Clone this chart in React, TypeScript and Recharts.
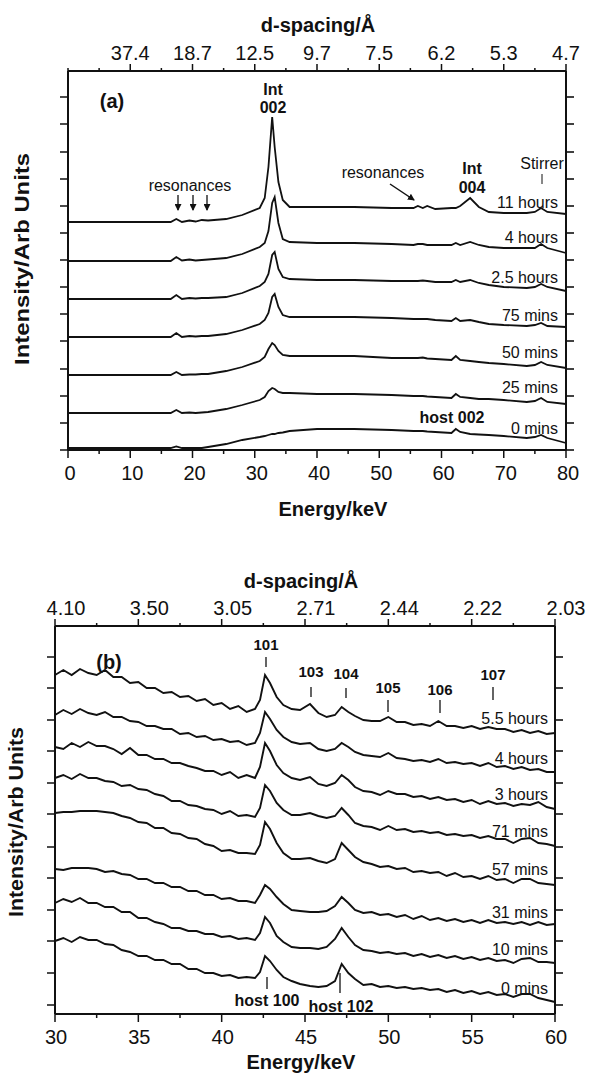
import React from 'react';
import { LineChart, Line, XAxis, YAxis } from 'recharts';

const FONT = '"Liberation Sans", Arial, Helvetica, sans-serif';
const INK = '#111';

// ---------- panel (a): 0-80 keV, intercalation runs ----------
const energyA = [0, 10, 16.5, 17.4, 18.3, 19.5, 20.5, 21.5, 22.5, 25.4, 28, 30.8, 31.6, 32.2, 32.8, 33.2, 33.8, 34.5, 35.6, 40, 46, 52, 55.5, 56.2, 57, 57.7, 59, 61.6, 62.3, 63, 64.6, 66, 67.6, 70, 73.7, 75, 76, 77, 80];

const keysA = ['m0', 'm25', 'm50', 'm75', 'h2_5', 'h4', 'h11'];
const labelsA = ['0 mins', '25 mins', '50 mins', '75 mins', '2.5 hours', '4 hours', '11 hours'];
// vertical stacking offset of each run (arb. units)
const offsetA = [2, 37, 75, 113, 151, 189, 228];

const a0mins = [0, 0, 0, 1.5, 0, 0, 0, 0, 1, 4, 8, 11, 12, 13, 14, 14, 15, 15.5, 17, 19, 19, 18, 17, 17, 17, 16.5, 16, 15, 19, 16, 14, 13.5, 13, 12, 10, 11, 13, 10, 5];
const a25mins = [0, 0, 0, 3, 0, 0.5, 0, 0.5, 1, 4, 8, 13, 16, 22, 25, 24, 21, 20, 20, 19, 19, 18, 17, 17, 17, 16.5, 16, 15, 19, 16, 15, 14, 14, 13, 11, 12, 15, 11, 9];
const a50mins = [0, 0, 0, 3, 0, 0.5, 0.5, 1, 1, 4, 8, 14, 18, 26, 32, 30, 24, 20, 19, 19, 19, 17, 17, 17, 17.5, 16.5, 16, 15, 19, 15, 14, 13, 12, 11, 9, 10, 13, 10, 7];
const a75mins = [0, 0, 0, 4, 0, 1, 0.5, 1, 1, 3, 7, 13, 17, 24, 40, 43, 30, 22, 20, 20, 20, 19, 18, 18, 18, 18, 17, 16, 19, 16, 17, 15, 13, 12, 11, 12, 14, 11, 10];
const a2_5hours = [0, 0, 0, 4, 0, 1, 0.5, 1, 1, 2, 6, 13, 17, 25, 44, 47, 30, 22, 20, 19, 19, 18, 18, 18, 18.5, 18, 17, 17, 19, 17, 19, 16, 14, 12, 11, 12, 15, 12, 8];
const a4hours = [0, 0, 0, 4, 0.5, 1.5, 0.5, 1, 1.5, 3, 7, 14, 18, 30, 58, 64, 38, 22, 19, 18, 18, 17, 16, 17, 17, 16, 16, 16, 18, 16, 19, 16, 14, 13, 13, 13, 17, 13, 8];
const a11hours = [0, 0, 0, 3, 0, 1.5, 0.5, 2, 1.5, 3, 7, 14, 24, 55, 105, 75, 40, 22, 15, 15, 15, 14, 14, 16, 14, 16, 13, 14, 14, 16, 24, 15, 10, 9, 9, 10, 14, 10, 8];
const profilesA = [a0mins, a25mins, a50mins, a75mins, a2_5hours, a4hours, a11hours];

const xTicksA = [0, 5, 10, 15, 20, 25, 30, 35, 40, 45, 50, 55, 60, 65, 70, 75, 80];
const xMajorA = [0, 10, 20, 30, 40, 50, 60, 70, 80];
const dMajorA = [10, 20, 30, 40, 50, 60, 70, 80];
const dLabelsA = ['37.4', '18.7', '12.5', '9.7', '7.5', '6.2', '5.3', '4.7'];
const yTicksA = [0, 27, 54, 81, 109, 136, 163, 190, 217, 244, 271, 298, 326, 353];

// ---------- panel (b): 30-60 keV, hexagonal reflections ----------
const energyB = [30, 30.5, 31, 31.5, 32, 32.5, 33, 33.5, 34, 34.5, 35, 35.5, 36, 36.5, 37, 37.5, 38, 38.5, 39, 39.5, 40, 40.5, 41, 41.5, 42, 42.3, 42.6, 42.9, 43.3, 43.7, 44.2, 44.7, 45.3, 45.8, 46.3, 46.8, 47.2, 47.6, 48, 48.5, 49, 49.5, 50, 50.5, 51, 51.5, 52, 52.5, 53, 53.5, 54, 54.5, 55, 55.5, 56, 56.5, 57, 57.5, 58, 58.5, 59, 59.5, 60];

const keysB = ['m0', 'm10', 'm31', 'm57', 'm71', 'h3', 'h4', 'h5_5'];
const labelsB = ['0 mins', '10 mins', '31 mins', '57 mins', '71 mins', '3 hours', '4 hours', '5.5 hours'];

const b0mins = [64, 67, 63, 68, 65, 65, 61, 60, 55, 53, 49, 49, 45, 45, 41, 41, 36, 36, 32, 32, 29, 30, 27, 28, 27, 33, 49, 44, 35, 28, 24, 21, 19, 18, 19, 24, 41, 32, 26, 20, 21, 18, 19, 17, 18, 16, 17, 15, 16, 13, 15, 12, 14, 11, 13, 10, 11, 8, 11, 11, 7, 5, 3];
const b10mins = [102, 106, 103, 107, 102, 102, 98, 98, 93, 93, 87, 87, 83, 81, 77, 77, 74, 74, 71, 71, 68, 69, 66, 67, 65, 72, 88, 82, 69, 63, 58, 57, 57, 56, 58, 66, 77, 68, 60, 55, 54, 52, 53, 51, 52, 49, 51, 48, 50, 47, 49, 46, 48, 45, 47, 44, 45, 42, 46, 47, 43, 43, 42];
const b31mins = [136, 135, 137, 137, 137, 136, 133, 134, 131, 130, 126, 126, 122, 122, 118, 118, 114, 114, 110, 110, 106, 107, 104, 104, 102, 110, 120, 116, 108, 101, 95, 94, 93, 93, 94, 99, 108, 102, 95, 92, 93, 90, 91, 88, 90, 86, 89, 85, 87, 84, 86, 83, 85, 82, 85, 82, 83, 81, 83, 80, 83, 80, 81];
const b57mins = [192, 193, 193, 194, 194, 194, 193, 192, 189, 187, 183, 182, 177, 177, 172, 171, 167, 166, 161, 159, 154, 155, 152, 152, 151, 160, 183, 176, 162, 152, 146, 146, 147, 144, 142, 146, 162, 155, 148, 143, 141, 138, 139, 136, 137, 133, 134, 132, 133, 129, 132, 128, 129, 126, 129, 125, 126, 122, 126, 126, 122, 121, 120];
const b71mins = [227, 230, 226, 231, 227, 227, 224, 223, 219, 220, 216, 215, 211, 209, 204, 204, 200, 199, 196, 195, 191, 194, 189, 190, 188, 197, 220, 214, 202, 195, 190, 190, 192, 189, 187, 189, 197, 190, 182, 179, 178, 175, 179, 175, 176, 173, 174, 172, 173, 170, 171, 169, 170, 167, 169, 166, 166, 162, 166, 167, 162, 161, 159];
const b3hours = [258, 256, 262, 258, 263, 259, 259, 256, 251, 257, 250, 250, 246, 246, 242, 242, 239, 237, 234, 234, 230, 233, 227, 230, 227, 238, 262, 254, 240, 232, 227, 225, 228, 221, 219, 222, 230, 225, 218, 214, 213, 210, 214, 211, 211, 208, 209, 206, 208, 205, 206, 203, 205, 201, 204, 201, 202, 199, 201, 200, 203, 198, 196];
const b4hours = [290, 295, 291, 296, 292, 290, 293, 288, 288, 284, 283, 279, 279, 276, 276, 271, 272, 268, 269, 265, 266, 263, 264, 260, 262, 272, 293, 286, 275, 268, 263, 261, 262, 256, 254, 256, 262, 258, 253, 250, 249, 248, 252, 247, 246, 244, 245, 243, 246, 242, 243, 241, 242, 239, 242, 238, 239, 236, 238, 235, 236, 233, 233];
const b5_5hours = [330, 335, 330, 336, 332, 330, 335, 328, 328, 322, 323, 317, 317, 312, 313, 308, 309, 304, 306, 300, 302, 296, 299, 293, 296, 305, 330, 322, 308, 300, 296, 295, 301, 292, 288, 290, 298, 293, 289, 285, 284, 284, 288, 283, 283, 280, 281, 279, 284, 279, 279, 277, 279, 276, 278, 276, 276, 273, 275, 272, 274, 271, 272];
const seriesB = [b0mins, b10mins, b31mins, b57mins, b71mins, b3hours, b4hours, b5_5hours];

const xTicksB = [30, 32.5, 35, 37.5, 40, 42.5, 45, 47.5, 50, 52.5, 55, 57.5, 60];
const xMajorB = [30, 35, 40, 45, 50, 55, 60];
const dLabelsB = ['4.10', '3.50', '3.05', '2.71', '2.44', '2.22', '2.03'];
const yTicksB = [0, 32, 64, 95, 127, 158, 191, 222, 254, 285, 317, 348];

const rowsA = energyA.map((e, i) => {
  const row: Record<string, number> = { e };
  keysA.forEach((k, j) => { row[k] = offsetA[j] + profilesA[j][i]; });
  return row;
});

const rowsB = energyB.map((e, i) => {
  const row: Record<string, number> = { e };
  keysB.forEach((k, j) => { row[k] = seriesB[j][i]; });
  return row;
});

const txt = { fontFamily: FONT, fill: INK } as const;

// plot boxes in page pixels, shared by the charts and the overlay
const boxA = { left: 68, right: 566, top: 71, bottom: 450, yMin: 0, yMax: 379 };
const boxB = { left: 55, right: 555, top: 626, bottom: 1014, yMin: -9, yMax: 379 };

// tick drawers: the axes get tickSize/tickMargin 0, so (x, y) sits on the axis line
const bottomTick = (majors: number[], dx: number) => (p: any) => {
  const major = majors.includes(p.payload.value);
  return (
    <g>
      <line x1={p.x} x2={p.x} y1={p.y} y2={p.y + (major ? 8 : 4)} stroke={INK} strokeWidth={1.5} />
      {major && <text x={p.x + dx} y={p.y + 30} textAnchor="middle" fontSize={20} {...txt}>{p.payload.value}</text>}
    </g>
  );
};

const topTick = (majors: number[], labels: string[], dx: number) => (p: any) => {
  const idx = majors.indexOf(p.payload.value);
  return (
    <g>
      <line x1={p.x} x2={p.x} y1={p.y} y2={p.y - (idx >= 0 ? 7 : 3)} stroke={INK} strokeWidth={1.5} />
      {idx >= 0 && <text x={p.x + dx} y={p.y - 11} textAnchor="middle" fontSize={20} {...txt}>{labels[idx]}</text>}
    </g>
  );
};

const leftTick = (p: any) => <line x1={p.x - 8} x2={p.x} y1={p.y} y2={p.y} stroke={INK} strokeWidth={1.5} />;

const frame = { stroke: INK, strokeWidth: 2 };

// plot box of (a): x 68..566, y 71..450 ; axes take 20 (x) / 10 (y) px out of the margins
const PanelA = () => (
  <LineChart width={589} height={540} data={rowsA} margin={{ top: 51, right: 13, bottom: 70, left: 58 }}>
    <XAxis xAxisId="b" dataKey="e" type="number" domain={[0, 80]} ticks={xTicksA} interval={0} height={20}
      tickSize={0} tickMargin={0} axisLine={frame} tickLine={false} tick={bottomTick(xMajorA, 2)} />
    <XAxis xAxisId="t" orientation="top" dataKey="e" type="number" domain={[0, 80]} ticks={xTicksA} interval={0} height={20}
      tickSize={0} tickMargin={0} axisLine={frame} tickLine={false} tick={topTick(dMajorA, dLabelsA, 0)} />
    <YAxis yAxisId="l" type="number" domain={[boxA.yMin, boxA.yMax]} ticks={yTicksA} interval={0} width={10}
      tickSize={0} tickMargin={0} axisLine={frame} tickLine={false} tick={leftTick} />
    <YAxis yAxisId="r" orientation="right" type="number" domain={[boxA.yMin, boxA.yMax]} width={10}
      axisLine={frame} tickLine={false} tick={false} />
    {keysA.map((k) => (
      <Line key={k} xAxisId="b" yAxisId="l" type="linear" dataKey={k} stroke={INK} strokeWidth={1.8}
        dot={false} isAnimationActive={false} />
    ))}
  </LineChart>
);

// plot box of (b): x 55..555, y 626..1014 (page coords)
const PanelB = () => (
  <LineChart width={589} height={542} data={rowsB} margin={{ top: 66, right: 24, bottom: 48, left: 45 }}>
    <XAxis xAxisId="b" dataKey="e" type="number" domain={[30, 60]} ticks={xTicksB} interval={0} height={20}
      tickSize={0} tickMargin={0} axisLine={frame} tickLine={false} tick={bottomTick(xMajorB, 1)} />
    <XAxis xAxisId="t" orientation="top" dataKey="e" type="number" domain={[30, 60]} ticks={xTicksB} interval={0} height={20}
      tickSize={0} tickMargin={0} axisLine={frame} tickLine={false} tick={topTick(xMajorB, dLabelsB, 11)} />
    <YAxis yAxisId="l" type="number" domain={[boxB.yMin, boxB.yMax]} ticks={yTicksB} interval={0} width={10}
      tickSize={0} tickMargin={0} axisLine={frame} tickLine={false} tick={leftTick} />
    <YAxis yAxisId="r" orientation="right" type="number" domain={[boxB.yMin, boxB.yMax]} width={10}
      axisLine={frame} tickLine={false} tick={false} />
    {keysB.map((k) => (
      <Line key={k} xAxisId="b" yAxisId="l" type="linear" dataKey={k} stroke={INK} strokeWidth={1.9}
        dot={false} isAnimationActive={false} />
    ))}
  </LineChart>
);

// right-hand frame ticks (outward), placed with the same linear mapping as the y axis
const RightTicks = ({ box, ticks }: { box: typeof boxA; ticks: number[] }) => (
  <g>
    {ticks.map((v) => {
      const y = box.bottom - ((v - box.yMin) / (box.yMax - box.yMin)) * (box.bottom - box.top);
      return <line key={v} x1={box.right} x2={box.right + 8} y1={y} y2={y} stroke={INK} strokeWidth={1.6} />;
    })}
  </g>
);

// label placement for the run names (right-aligned beside each trace)
const runLabelYA = [428, 387, 352, 315, 277, 237, 202];
const runLabelYB = [988, 949, 912, 869, 831, 794, 758, 718];

const Annotations = () => (
  <svg width={589} height={1082} style={{ position: 'absolute', left: 0, top: 0, pointerEvents: 'none' }}>
    <defs>
      <marker id="head" markerWidth="7" markerHeight="7" refX="6" refY="3.5" orient="auto" markerUnits="userSpaceOnUse">
        <path d="M0,0 L7,3.5 L0,7 z" fill={INK} />
      </marker>
    </defs>

    <RightTicks box={boxA} ticks={yTicksA} />
    <RightTicks box={boxB} ticks={yTicksB} />

    {/* panel (a) */}
    <text x={318} y={32} textAnchor="middle" fontSize={20} fontWeight="bold" {...txt}>d-spacing/Å</text>
    <text x={333} y={516} textAnchor="middle" fontSize={20} fontWeight="bold" {...txt}>Energy/keV</text>
    <text transform="translate(29,259) rotate(-90)" textAnchor="middle" fontSize={21} fontWeight="bold"
      textLength={212} lengthAdjust="spacingAndGlyphs" {...txt}>Intensity/Arb Units</text>
    <text x={112} y={108} textAnchor="middle" fontSize={20} fontWeight="bold" {...txt}>(a)</text>
    <text x={273} y={95} textAnchor="middle" fontSize={16} fontWeight="bold" {...txt}>Int</text>
    <text x={273} y={113} textAnchor="middle" fontSize={16} fontWeight="bold" {...txt}>002</text>
    <text x={190} y={191} textAnchor="middle" fontSize={16} {...txt}>resonances</text>
    {[178, 193, 207].map((x) => (
      <line key={x} x1={x} x2={x} y1={195} y2={210} stroke={INK} strokeWidth={1.3} markerEnd="url(#head)" />
    ))}
    <text x={383} y={178} textAnchor="middle" fontSize={16} {...txt}>resonances</text>
    <line x1={390} y1={184} x2={414} y2={200} stroke={INK} strokeWidth={1.5} markerEnd="url(#head)" />
    <text x={472} y={174} textAnchor="middle" fontSize={16} fontWeight="bold" {...txt}>Int</text>
    <text x={472} y={193} textAnchor="middle" fontSize={16} fontWeight="bold" {...txt}>004</text>
    <text x={542} y={169} textAnchor="middle" fontSize={16} {...txt}>Stirrer</text>
    <line x1={542} x2={542} y1={174} y2={184} stroke={INK} strokeWidth={1} />
    <text x={452} y={423} textAnchor="middle" fontSize={16} fontWeight="bold" {...txt}>host 002</text>
    {labelsA.map((l, i) => (
      <text key={l} x={558} y={runLabelYA[i] + 6} textAnchor="end" fontSize={16} {...txt}>{l}</text>
    ))}

    {/* panel (b) */}
    <text x={301} y={588} textAnchor="middle" fontSize={20} fontWeight="bold" {...txt}>d-spacing/Å</text>
    <text x={301} y={1069} textAnchor="middle" fontSize={20} fontWeight="bold" {...txt}>Energy/keV</text>
    <text transform="translate(23,822) rotate(-90)" textAnchor="middle" fontSize={21} fontWeight="bold"
      textLength={190} lengthAdjust="spacingAndGlyphs" {...txt}>Intensity/Arb Units</text>
    <text x={109} y={669} textAnchor="middle" fontSize={20} fontWeight="bold" {...txt}>(b)</text>
    {[
      ['101', 266, 650, 657, 667],
      ['103', 311, 677, 687, 697],
      ['104', 346, 679, 688, 698],
      ['105', 388, 693, 700, 712],
      ['106', 440, 695, 700, 713],
      ['107', 493, 680, 687, 700],
    ].map(([t, x, y, y1, y2]) => (
      <g key={t as string}>
        <text x={x as number} y={y as number} textAnchor="middle" fontSize={15} fontWeight="bold" {...txt}>{t}</text>
        <line x1={x as number} x2={x as number} y1={y1 as number} y2={y2 as number} stroke={INK} strokeWidth={1.3} />
      </g>
    ))}
    <line x1={267} x2={267} y1={977} y2={989} stroke={INK} strokeWidth={1.3} />
    <text x={267} y={1006} textAnchor="middle" fontSize={16} fontWeight="bold" {...txt}>host 100</text>
    <line x1={340} x2={340} y1={973} y2={993} stroke={INK} strokeWidth={1.3} />
    <text x={341} y={1012} textAnchor="middle" fontSize={16} fontWeight="bold" {...txt}>host 102</text>
    {labelsB.map((l, i) => (
      <text key={l} x={548} y={runLabelYB[i] + 6} textAnchor="end" fontSize={16} {...txt}>{l}</text>
    ))}
  </svg>
);

export default function App() {
  return (
    <div style={{ position: 'absolute', left: 0, top: 0, width: 589, height: 1082, background: '#fff' }}>
      <div style={{ position: 'absolute', left: 0, top: 0 }}>
        <PanelA />
      </div>
      <div style={{ position: 'absolute', left: 0, top: 540 }}>
        <PanelB />
      </div>
      <Annotations />
    </div>
  );
}
